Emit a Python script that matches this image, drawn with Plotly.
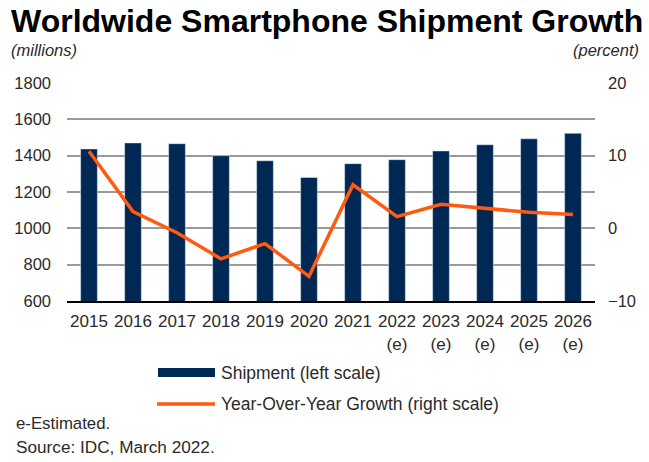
import plotly.graph_objects as go

years = ["2015", "2016", "2017", "2018", "2019", "2020", "2021",
         "2022", "2023", "2024", "2025", "2026"]
tick_labels = ["2015", "2016", "2017", "2018", "2019", "2020", "2021",
               "2022<br>(e)", "2023<br>(e)", "2024<br>(e)", "2025<br>(e)", "2026<br>(e)"]
shipments = [1437, 1470, 1466, 1400, 1372, 1280, 1356, 1378, 1426, 1460, 1493, 1523]
growth = [10.6, 2.3, -0.6, -4.2, -2.1, -6.6, 6.0, 1.6, 3.3, 2.7, 2.2, 1.9]

NAVY = "#002855"
ORANGE = "#FF5A0F"
TXT = "#2a2a2a"
FONT = "Liberation Sans, Arial, sans-serif"

fig = go.Figure()
fig.add_trace(go.Bar(x=years, y=shipments, marker_color=NAVY, name="Shipment (left scale)",
                     showlegend=False, yaxis="y"))
fig.add_trace(go.Scatter(x=years, y=growth, mode="lines", line=dict(color=ORANGE, width=3.5),
                         name="Year-Over-Year Growth (right scale)", showlegend=False, yaxis="y2"))

fig.update_layout(
    width=649, height=462,
    margin=dict(l=67, r=54, t=83, b=161),
    paper_bgcolor="white", plot_bgcolor="white",
    font=dict(family=FONT, color=TXT),
    bargap=0.62,
    xaxis=dict(tickmode="array", tickvals=years, ticktext=tick_labels,
               tickfont=dict(size=17, color=TXT), showgrid=False, ticks="",
               showline=True, linecolor="black", linewidth=2, ticklabelstandoff=4),
    yaxis=dict(range=[600, 1800], dtick=200, showgrid=True, gridcolor="#9a9a9a", gridwidth=1.7,
               tickfont=dict(size=16.5, color=TXT), zeroline=False, ticks="",
               ticklabelstandoff=15),
    yaxis2=dict(range=[-10, 20], dtick=10, overlaying="y", side="right", showgrid=False,
                zeroline=False, tickfont=dict(size=16.5, color=TXT), ticks="",
                ticklabelstandoff=12),
)

ann = [
    dict(text="<b>Worldwide Smartphone Shipment Growth</b>", x=9, y=21, size=32, color="black"),
    dict(text="<i>(millions)</i>", x=9, y=50, size=16.5, color=TXT),
    dict(text="e-Estimated.", x=14, y=423, size=16.8, color=TXT),
    dict(text="Source: IDC, March 2022.", x=14, y=447, size=17.2, color=TXT),
    dict(text="Shipment (left scale)", x=219, y=373, size=17.5, color=TXT),
    dict(text="Year-Over-Year Growth (right scale)", x=219, y=404, size=17.5, color=TXT),
]
for a in ann:
    fig.add_annotation(text=a["text"], xref="paper", yref="paper",
                       x=(a["x"] - 67) / 528, y=(301 - a["y"]) / 218,
                       xanchor="left", yanchor="middle", showarrow=False,
                       font=dict(size=a["size"], color=a["color"]))
fig.add_annotation(text="<i>(percent)</i>", xref="paper", yref="paper",
                   x=(641 - 67) / 528, y=(301 - 50) / 218, xanchor="right", yanchor="middle",
                   showarrow=False, font=dict(size=16.5, color=TXT))

# legend glyphs
fig.add_shape(type="rect", xref="paper", yref="paper",
              x0=(158 - 67) / 528, x1=(215 - 67) / 528,
              y0=(301 - 377) / 218, y1=(301 - 368) / 218,
              fillcolor=NAVY, line=dict(width=0))
fig.add_shape(type="line", xref="paper", yref="paper",
              x0=(157 - 67) / 528, x1=(215 - 67) / 528,
              y0=(301 - 404) / 218, y1=(301 - 404) / 218,
              line=dict(color=ORANGE, width=3.5))

fig.write_html("out.html")
